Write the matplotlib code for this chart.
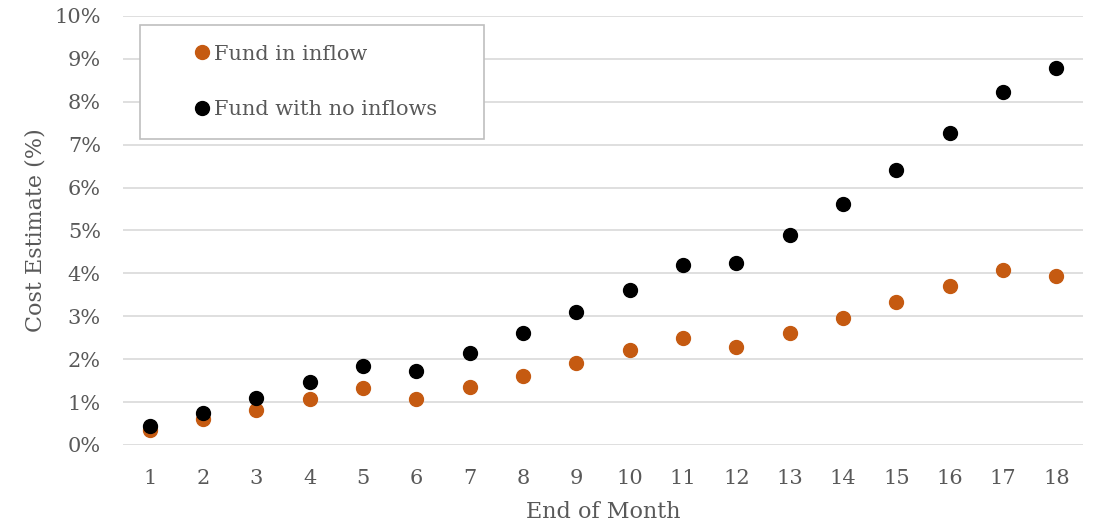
import matplotlib.pyplot as plt
from matplotlib.ticker import FuncFormatter

plt.rcParams['font.family'] = ['DejaVu Serif']

months = list(range(1, 19))
fund_inflow = [0.35, 0.61, 0.82, 1.07, 1.33, 1.07, 1.35, 1.61, 1.91, 2.21,
               2.49, 2.28, 2.61, 2.96, 3.33, 3.71, 4.08, 3.95]
fund_no_inflow = [0.44, 0.75, 1.10, 1.47, 1.84, 1.72, 2.14, 2.61, 3.10, 3.61,
                  4.20, 4.24, 4.90, 5.62, 6.41, 7.27, 8.23, 8.79]

txt = '#595959'
fig = plt.figure(figsize=(10.99, 5.26), dpi=100)
ax = fig.add_axes([0.112, 0.154, 0.8735, 0.8156])

ax.plot(months, fund_inflow, 'o', color='#C55A11', markersize=10, label='Fund in inflow', zorder=3)
ax.plot(months, fund_no_inflow, 'o', color='black', markersize=10, label='Fund with no inflows', zorder=3)

ax.set_xlim(0.5, 18.5)
ax.set_ylim(0, 10)
ax.set_yticks(range(0, 11))
ax.set_xticks(months)
ax.yaxis.set_major_formatter(FuncFormatter(lambda v, p: f'{v:.0f}%'))
ax.grid(axis='y', color='#d9d9d9', linewidth=1.2)
ax.set_axisbelow(True)
for s in ax.spines.values():
    s.set_visible(False)
ax.tick_params(length=0, labelsize=15, labelcolor=txt)
ax.tick_params(axis='y', pad=16)
ax.tick_params(axis='x', pad=17)

ax.set_xlabel('End of Month', fontsize=16, color=txt, labelpad=10)
ax.set_ylabel('Cost Estimate (%)', fontsize=16, color=txt, labelpad=6)

leg = ax.legend(loc='upper left', bbox_to_anchor=(0.0177, 0.979, 0.3584, 0), mode='expand',
                borderaxespad=0, fontsize=15, labelspacing=1.75, borderpad=0.95,
                handlelength=4.0, handletextpad=-1.4, fancybox=False, framealpha=1,
                edgecolor='#bfbfbf', labelcolor=txt)
leg.get_frame().set_linewidth(1.2)

fig.savefig('out.png', dpi=100)
